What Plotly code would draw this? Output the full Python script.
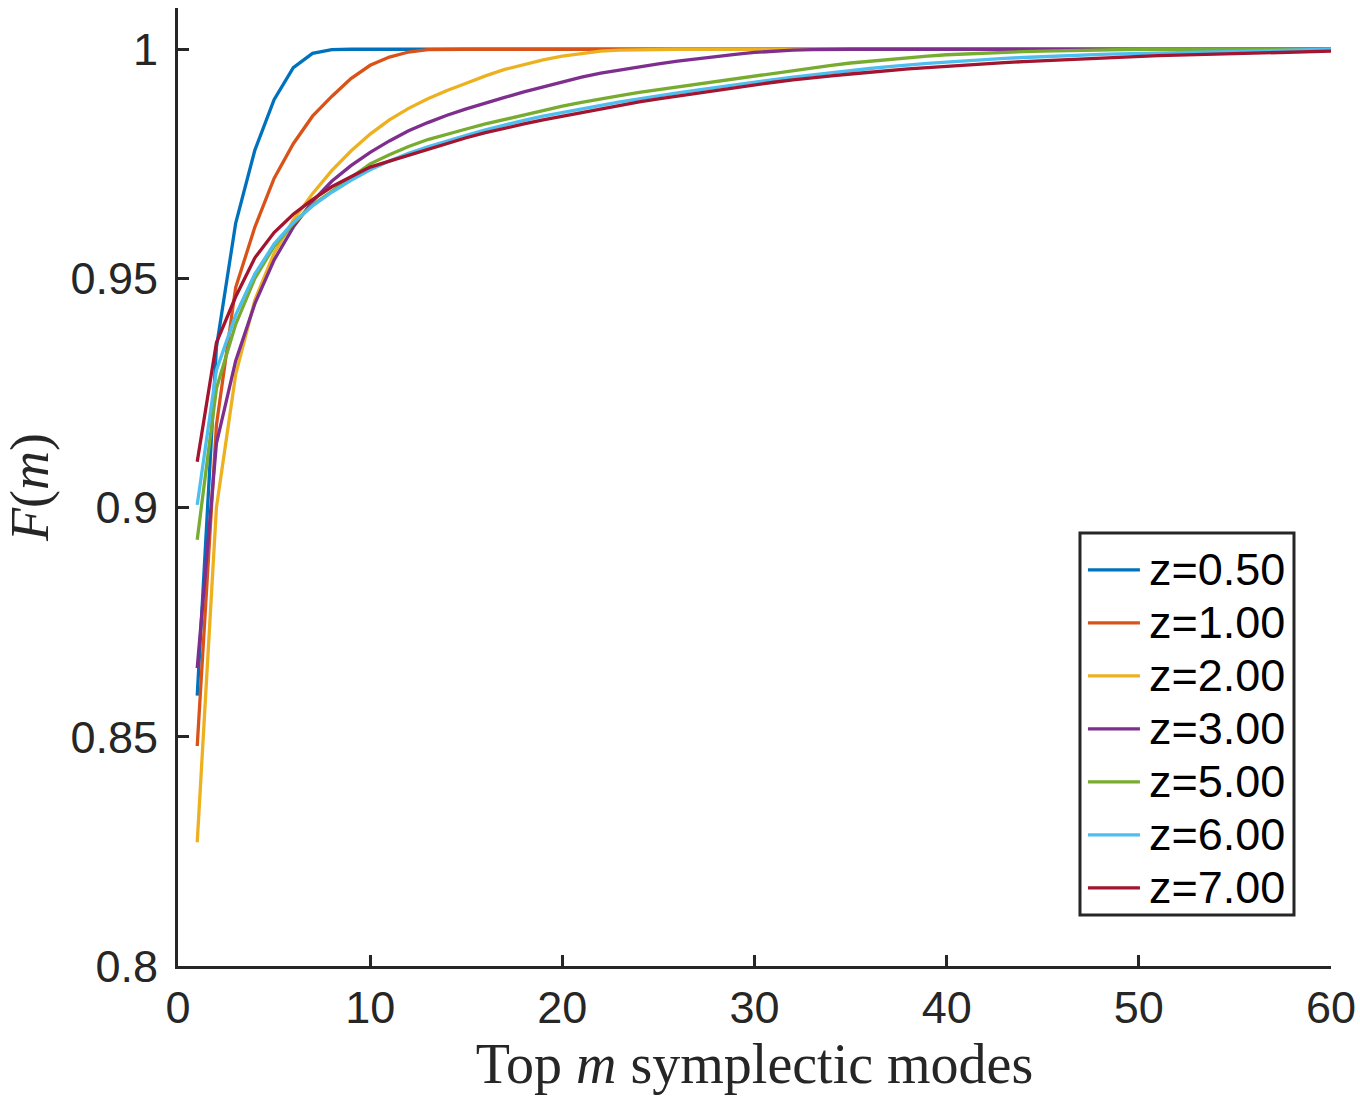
import plotly.graph_objects as go

m = list(range(1, 61))

z050 = [0.859, 0.935, 0.962, 0.978, 0.989, 0.996, 0.9991, 0.9999, 1.0, 1.0,
        1.0, 1.0, 1.0, 1.0, 1.0, 1.0, 1.0, 1.0, 1.0, 1.0,
        1.0, 1.0, 1.0, 1.0, 1.0, 1.0, 1.0, 1.0, 1.0, 1.0,
        1.0, 1.0, 1.0, 1.0, 1.0, 1.0, 1.0, 1.0, 1.0, 1.0,
        1.0, 1.0, 1.0, 1.0, 1.0, 1.0, 1.0, 1.0, 1.0, 1.0,
        1.0, 1.0, 1.0, 1.0, 1.0, 1.0, 1.0, 1.0, 1.0, 1.0]

z100 = [0.848, 0.918, 0.948, 0.9612, 0.9718, 0.9794, 0.9854, 0.9897, 0.9936, 0.9965,
        0.9983, 0.9994, 0.9999, 1.0, 1.0, 1.0, 1.0, 1.0, 1.0, 1.0,
        1.0, 1.0, 1.0, 1.0, 1.0, 1.0, 1.0, 1.0, 1.0, 1.0,
        1.0, 1.0, 1.0, 1.0, 1.0, 1.0, 1.0, 1.0, 1.0, 1.0,
        1.0, 1.0, 1.0, 1.0, 1.0, 1.0, 1.0, 1.0, 1.0, 1.0,
        1.0, 1.0, 1.0, 1.0, 1.0, 1.0, 1.0, 1.0, 1.0, 1.0]

z200 = [0.827, 0.900, 0.929, 0.9453, 0.9555, 0.9627, 0.9685, 0.9735, 0.9778, 0.9815,
        0.9846, 0.9871, 0.9892, 0.9910, 0.9926, 0.9942, 0.9956, 0.9967, 0.9977, 0.9985,
        0.9991, 0.9996, 0.9998, 0.9999, 1.0, 1.0, 1.0, 1.0, 1.0, 1.0,
        1.0, 1.0, 1.0, 1.0, 1.0, 1.0, 1.0, 1.0, 1.0, 1.0,
        1.0, 1.0, 1.0, 1.0, 1.0, 1.0, 1.0, 1.0, 1.0, 1.0,
        1.0, 1.0, 1.0, 1.0, 1.0, 1.0, 1.0, 1.0, 1.0, 1.0]

z300 = [0.865, 0.914, 0.932, 0.9445, 0.954, 0.9612, 0.9668, 0.9712, 0.9746, 0.9775,
        0.9800, 0.9822, 0.9840, 0.9856, 0.9870, 0.9883, 0.9895, 0.9907, 0.9918, 0.9929,
        0.9939, 0.9948, 0.9955, 0.9962, 0.9968, 0.9974, 0.9979, 0.9985, 0.9989, 0.9993,
        0.9996, 0.9998, 0.9999, 1.0, 1.0, 1.0, 1.0, 1.0, 1.0, 1.0,
        1.0, 1.0, 1.0, 1.0, 1.0, 1.0, 1.0, 1.0, 1.0, 1.0,
        1.0, 1.0, 1.0, 1.0, 1.0, 1.0, 1.0, 1.0, 1.0, 1.0]

z500 = [0.893, 0.926, 0.940, 0.950, 0.957, 0.962, 0.966, 0.969, 0.972, 0.9750,
        0.9770, 0.9788, 0.9803, 0.9815, 0.9826, 0.9837, 0.9847, 0.9857, 0.9867, 0.9876,
        0.9884, 0.9892, 0.9899, 0.9906, 0.9912, 0.9918, 0.9924, 0.9930, 0.9936, 0.9942,
        0.9948, 0.9954, 0.9960, 0.9965, 0.9970, 0.9974, 0.9978, 0.9982, 0.9985, 0.9988,
        0.9990, 0.9992, 0.9994, 0.9995, 0.9996, 0.9997, 0.9998, 0.9999, 1.0, 1.0,
        1.0, 1.0, 1.0, 1.0, 1.0, 1.0, 1.0, 1.0, 1.0, 1.0]

z600 = [0.9006, 0.930, 0.942, 0.951, 0.9575, 0.9622, 0.9658, 0.9688, 0.9714, 0.9737,
        0.9756, 0.9773, 0.9787, 0.9800, 0.9812, 0.9824, 0.9835, 0.9845, 0.9854, 0.9862,
        0.9870, 0.9878, 0.9885, 0.9892, 0.9899, 0.9905, 0.9911, 0.9917, 0.9923, 0.9929,
        0.9934, 0.9939, 0.9944, 0.9949, 0.9954, 0.9958, 0.9962, 0.9966, 0.9969, 0.9972,
        0.9975, 0.9978, 0.9980, 0.9982, 0.9984, 0.9986, 0.9987, 0.9989, 0.9990, 0.9991,
        0.9992, 0.9993, 0.9994, 0.9995, 0.9996, 0.9997, 0.9998, 0.9999, 0.9999, 1.0]

z700 = [0.910, 0.936, 0.946, 0.9545, 0.9600, 0.9640, 0.9672, 0.9700, 0.9722, 0.9743,
        0.9756, 0.9769, 0.9782, 0.9795, 0.9807, 0.9818, 0.9828, 0.9837, 0.9846, 0.9854,
        0.9862, 0.9870, 0.9878, 0.9885, 0.9892, 0.9898, 0.9905, 0.9911, 0.9917, 0.9923,
        0.9928, 0.9933, 0.9938, 0.9942, 0.9946, 0.9950, 0.9954, 0.9957, 0.9960, 0.9963,
        0.9966, 0.9969, 0.9971, 0.9973, 0.9975, 0.9977, 0.9979, 0.9981, 0.9983, 0.9984,
        0.9986, 0.9987, 0.9988, 0.9989, 0.9990, 0.9992, 0.9993, 0.9994, 0.9995, 0.9996]

series_names = ["z=0.50", "z=1.00", "z=2.00", "z=3.00", "z=5.00", "z=6.00", "z=7.00"]
series_values = [z050, z100, z200, z300, z500, z600, z700]
colors = ["#0072BD", "#D95319", "#EDB120", "#7E2F8E", "#77AC30", "#4DBEEE", "#A2142F"]

x_ticks = [0, 10, 20, 30, 40, 50, 60]
y_ticks = [0.8, 0.85, 0.9, 0.95, 1.0]
y_ticklabels = ["0.8", "0.85", "0.9", "0.95", "1"]

axis_color = "#262626"
sans = "Liberation Sans, Arial, Helvetica, sans-serif"
serif = "Liberation Serif, Times New Roman, serif"

fig = go.Figure()
for name, vals, col in zip(series_names, series_values, colors):
    fig.add_trace(go.Scatter(x=m, y=vals, mode="lines", name=name, showlegend=False,
                             line=dict(color=col, width=3.3)))

# Legend box drawn in paper coordinates (MATLAB-style boxed legend)
leg_x0, leg_x1 = 0.7823, 0.9679
leg_y0, leg_y1 = 0.0532, 0.4520
row_top = 0.4134          # paper y of the first row centre
row_step = 0.0553         # paper spacing between rows
sample_x0, sample_x1 = 0.7892, 0.8343
text_x = 0.8404

shapes = [dict(type="rect", xref="paper", yref="paper",
               x0=leg_x0, x1=leg_x1, y0=leg_y0, y1=leg_y1,
               line=dict(color=axis_color, width=3), fillcolor="white", layer="above")]
annotations = []
for i, (name, col) in enumerate(zip(series_names, colors)):
    yy = row_top - i * row_step
    shapes.append(dict(type="line", xref="paper", yref="paper",
                       x0=sample_x0, x1=sample_x1, y0=yy, y1=yy,
                       line=dict(color=col, width=3.3), layer="above"))
    annotations.append(dict(text=name, xref="paper", yref="paper", x=text_x, y=yy,
                            xanchor="left", yanchor="middle", showarrow=False,
                            font=dict(family=sans, size=45, color="black")))

fig.update_layout(
    width=1360, height=1096,
    margin=dict(l=178, r=29, t=8, b=130, autoexpand=False),
    paper_bgcolor="white", plot_bgcolor="white",
    font=dict(family=sans, size=45, color=axis_color),
    showlegend=False,
    shapes=shapes,
    annotations=annotations,
    xaxis=dict(
        range=[0, 60], tickvals=x_ticks,
        showline=True, linewidth=3, linecolor=axis_color, mirror=False,
        ticks="inside", ticklen=11, tickwidth=2.5, tickcolor=axis_color,
        showgrid=False, zeroline=False, automargin=False,
        tickfont=dict(family=sans, size=45, color=axis_color),
        title=dict(text="Top <i>m</i> symplectic modes",
                   font=dict(family=serif, size=56, color=axis_color), standoff=10),
    ),
    yaxis=dict(
        range=[0.8, 1.009], tickvals=y_ticks, ticktext=y_ticklabels,
        showline=True, linewidth=3, linecolor=axis_color, mirror=False,
        ticks="inside", ticklen=11, tickwidth=2.5, tickcolor=axis_color,
        showgrid=False, zeroline=False, automargin=False,
        tickfont=dict(family=sans, size=45, color=axis_color),
        ticklabelstandoff=8,
        title=dict(text="<i>F</i>(<i>m</i>)",
                   font=dict(family=serif, size=54, color=axis_color), standoff=14),
    ),
)

fig.write_html("out.html")
